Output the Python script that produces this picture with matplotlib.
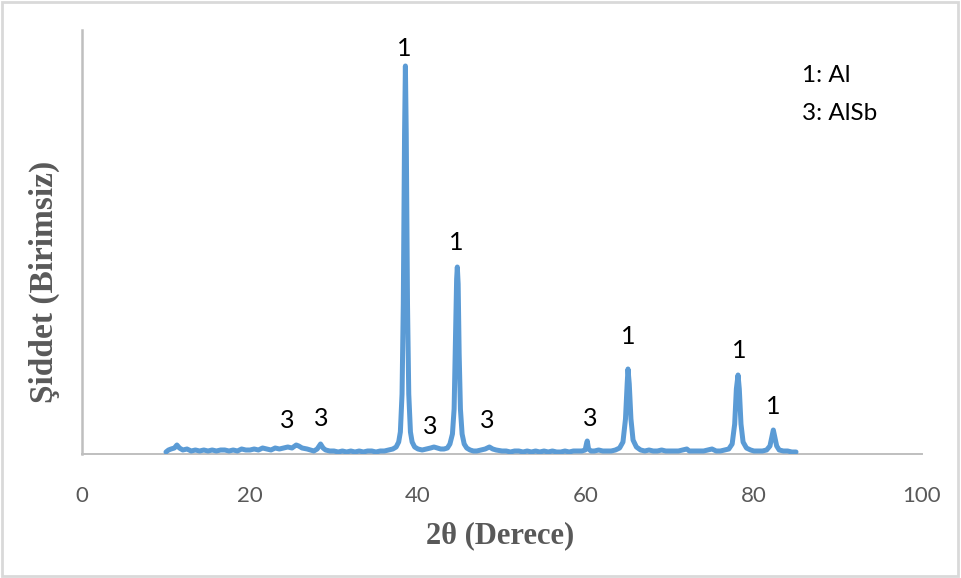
import matplotlib.pyplot as plt
from matplotlib.patches import Rectangle

# XRD pattern (arbitrary intensity units)
two_theta = [
    10.0, 10.3, 10.6, 11.0, 11.3, 11.6, 12.0, 12.5, 13.0, 13.5, 14.0, 14.5, 15.0, 15.5,
    16.0, 16.5, 17.0, 17.5, 18.0, 18.5, 19.0, 19.5, 20.0, 20.5, 21.0, 21.5, 22.0, 22.5,
    23.0, 23.5, 24.0, 24.5, 25.0, 25.5, 25.8, 26.2, 26.8, 27.2, 27.6, 28.0, 28.4, 28.7,
    29.0, 29.5, 30.0, 30.5, 31.0, 31.5, 32.0, 32.5, 33.0, 33.5, 34.0, 34.5, 35.0, 35.5,
    36.0, 36.5, 37.0, 37.4, 37.7, 37.9, 38.1, 38.25, 38.4, 38.5, 38.6, 38.75, 38.9, 39.1,
    39.3, 39.6, 40.0, 40.5, 41.0, 41.5, 41.9, 42.3, 42.7, 43.1, 43.5, 43.8, 44.1, 44.3,
    44.45, 44.6, 44.68, 44.78, 44.9, 45.05, 45.25, 45.5, 45.8, 46.2, 46.6, 47.0, 47.5, 48.0,
    48.5, 48.9, 49.3, 50.0, 50.5, 51.0, 51.5, 52.0, 52.5, 53.0, 53.5, 54.0, 54.5, 55.0,
    55.5, 56.0, 56.5, 57.0, 57.5, 58.0, 58.5, 59.0, 59.5, 59.9, 60.05, 60.15, 60.3, 60.6,
    61.0, 61.5, 62.0, 62.5, 63.0, 63.5, 64.0, 64.4, 64.7, 64.9, 65.0, 65.15, 65.35, 65.6,
    66.0, 66.5, 67.0, 67.5, 68.0, 68.5, 69.0, 69.5, 70.0, 70.5, 71.0, 71.5, 72.0, 72.3,
    73.0, 73.5, 74.0, 74.5, 75.0, 75.5, 76.0, 76.5, 77.0, 77.4, 77.7, 77.9, 78.1, 78.25,
    78.45, 78.7, 79.1, 79.6, 80.0, 80.5, 81.0, 81.5, 81.9, 82.1, 82.3, 82.45, 82.7, 83.0,
    83.5, 84.0, 84.5, 85.0,
]
intensity = [
    2, 4, 5, 6, 9, 6, 4, 5, 3, 4, 3, 4, 3, 4,
    3, 4, 4, 3, 4, 3, 5, 4, 4, 5, 4, 6, 5, 4,
    6, 5, 6, 7, 6, 9, 8, 6, 5, 4, 3, 5, 10, 6,
    4, 3, 3, 2, 3, 2, 3, 2, 3, 2, 3, 3, 2, 3,
    3, 4, 5, 7, 12, 22, 60, 150, 320, 388, 320, 150, 60, 22,
    12, 7, 5, 4, 5, 6, 7, 6, 5, 5, 6, 10, 20, 45,
    110, 175, 187, 170, 100, 45, 20, 10, 6, 4, 3, 3, 4, 5,
    7, 5, 4, 3, 3, 2, 3, 3, 2, 3, 2, 3, 2, 3,
    2, 3, 2, 2, 3, 2, 3, 3, 3, 4, 10, 13, 5, 3,
    3, 4, 3, 3, 3, 4, 6, 12, 35, 70, 85, 70, 35, 14,
    7, 4, 3, 4, 3, 3, 4, 3, 3, 3, 3, 4, 5, 3,
    3, 3, 3, 4, 5, 3, 3, 4, 5, 10, 30, 65, 79, 65,
    30, 12, 6, 4, 3, 3, 3, 4, 8, 16, 24, 18, 8, 4,
    3, 3, 2, 2,
]

# peak labels
peak_labels = ["1", "1", "1", "1", "1", "3", "3", "3", "3", "3"]
peak_x = [38.3, 44.6, 65.0, 78.2, 82.3, 24.4, 28.45, 41.5, 48.2, 60.5]
peak_y = [406, 211, 117, 104, 48, 33, 36, 28, 34, 36]

legend_lines = ["1: Al", "3: AlSb"]

fig = plt.figure(figsize=(9.62, 5.78), dpi=100)
ax = fig.add_axes([82 / 962, 124 / 578, 840 / 962, 424 / 578])

ax.plot(two_theta, intensity, color="#5B9BD5", lw=3.6, solid_capstyle="round",
        solid_joinstyle="round")

for lab, x, y in zip(peak_labels, peak_x, peak_y):
    ax.text(x, y, lab, ha="center", va="center", fontsize=18,
            family="Lato", color="black")

for i, line in enumerate(legend_lines):
    fig.text(802 / 962, 1 - (75 + 38 * i) / 578, line, ha="left", va="center",
             fontsize=17.5, family="Lato", color="black")

ax.set_xlim(0, 100)
ax.set_ylim(0, 424)
ax.set_xticks([0, 20, 40, 60, 80, 100])
ax.set_yticks([])
ax.tick_params(axis="x", length=0, pad=23, labelsize=16, labelcolor="#595959")
for lbl in ax.get_xticklabels():
    lbl.set_family("Lato")

for s in ["top", "right"]:
    ax.spines[s].set_visible(False)
ax.spines["left"].set_color("#BFBFBF")
ax.spines["left"].set_linewidth(1.8)
ax.spines["bottom"].set_color("#BFBFBF")
ax.spines["bottom"].set_linewidth(1.4)
ax.spines["bottom"].set_zorder(0)

fig.text(500 / 962, 1 - 536 / 578, "2θ (Derece)", ha="center", va="center",
         fontsize=22, fontweight="bold", family="Liberation Serif", color="#595959")
fig.text(44 / 962, 1 - 282 / 578, "Şiddet (Birimsiz)", ha="center", va="center",
         rotation=90, fontsize=24, fontweight="bold", family="Liberation Serif",
         color="#595959")

fig.patches.append(Rectangle((0.002, 0.004), 0.994, 0.993, transform=fig.transFigure,
                             fill=False, edgecolor="#D9D9D9", lw=2))

fig.savefig("out.png", dpi=100)
